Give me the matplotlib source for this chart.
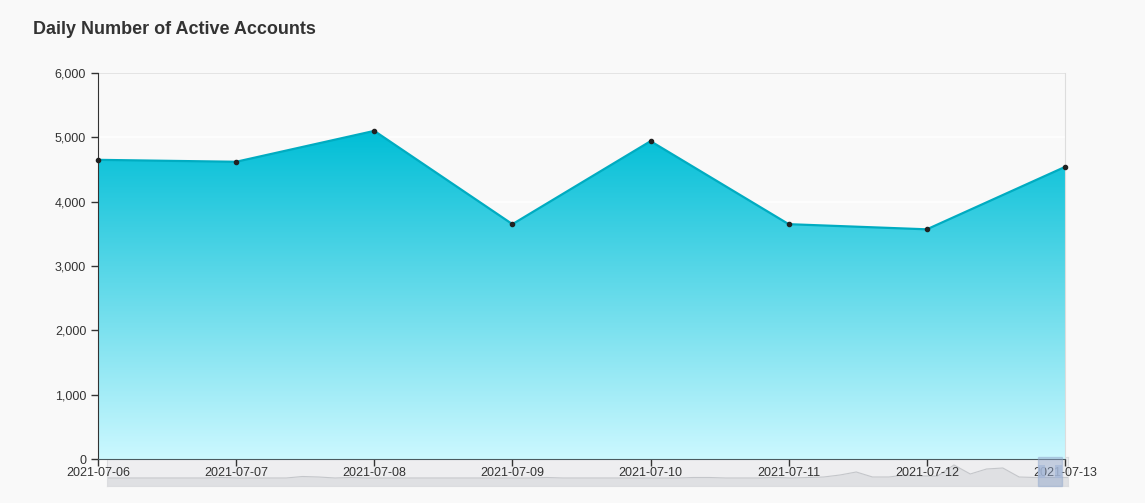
import numpy as np
import matplotlib.pyplot as plt
from matplotlib.colors import LinearSegmentedColormap
from matplotlib.patches import Rectangle

# data
dates = ['2021-07-06', '2021-07-07', '2021-07-08', '2021-07-09',
         '2021-07-10', '2021-07-11', '2021-07-12', '2021-07-13']
active_accounts = [4650, 4620, 5100, 3650, 4940, 3650, 3570, 4540]
y_ticks = [0, 1000, 2000, 3000, 4000, 5000, 6000]

# overview strip under the axis (longer history, rough reading)
brush_vals = [8, 8, 8, 8, 8, 8, 8, 8.5, 8, 8,
              8, 8, 9.5, 9, 8, 8.5, 8, 8, 8, 8,
              8, 8, 8, 8, 8, 8, 8, 8.5, 8, 8,
              8, 8, 8, 8, 8, 8, 8.5, 8.5, 8, 8,
              8, 8.5, 8, 8.5, 9, 11, 14, 9, 9, 11,
              10, 10, 21, 12, 17, 18, 9, 8.5, 8.5, 8.5]

plt.rcParams['font.family'] = ['Liberation Sans', 'DejaVu Sans']
bg = '#f9f9f9'

fig = plt.figure(figsize=(11.45, 5.03), dpi=100, facecolor=bg)
ax = fig.add_axes([98 / 1145, 44 / 503, 967 / 1145, 386 / 503])
ax.set_facecolor(bg)
ax.set_zorder(1)

x = np.arange(len(dates))
y = np.array(active_accounts)

# gradient area
fill = ax.fill_between(x, y, 0, color='none', lw=0)
cmap = LinearSegmentedColormap.from_list('cy', ['#ccf8ff', '#00bed6'])
grad = np.linspace(0, 1, 256).reshape(-1, 1)
im = ax.imshow(grad, cmap=cmap, aspect='auto', origin='lower',
               extent=[x[0], x[-1], 0, y.max()], zorder=2)
im.set_clip_path(fill.get_paths()[0], transform=ax.transData)

ax.plot(x, y, color='#00acc1', lw=1.6, zorder=3)
ax.plot(x, y, 'o', color='#222222', ms=3, zorder=4, clip_on=False)

ax.set_xlim(x[0], x[-1])
ax.set_ylim(0, 6000)
ax.set_xticks(x)
ax.set_xticklabels(dates)
ax.set_yticks(y_ticks)
ax.set_yticklabels([f'{v:,}' for v in y_ticks])
ax.grid(axis='y', color='white', lw=1.2, zorder=1.5)
ax.set_axisbelow(True)
ax.axhline(6000, color='#e0e0e0', lw=1.2, zorder=1)

ax.spines['top'].set_visible(False)
ax.spines['right'].set_color('#dddddd')
ax.spines['left'].set_color('#333333')
ax.spines['bottom'].set_color('#4a5a60')
ax.tick_params(axis='both', colors='#333333', labelsize=9, length=5, width=1)
ax.tick_params(axis='x', pad=1)

fig.text(33 / 1145, 1 - 29 / 503, 'Daily Number of Active Accounts',
         fontsize=13, fontweight='bold', color='#333333', va='center')

# overview strip
bx = fig.add_axes([107 / 1145, 17 / 503, 961 / 1145, 29 / 503])
bx.set_zorder(0)
bx.set_facecolor('#eeeef0')
bi = np.arange(len(brush_vals))
bx.fill_between(bi, brush_vals, 0, color='#dfe0e3', lw=0)
bx.plot(bi, brush_vals, color='#c4c6ca', lw=0.8)
bx.set_xlim(0, len(brush_vals) - 1)
bx.set_ylim(0, 29)
bx.set_xticks([])
bx.set_yticks([])
for s in bx.spines.values():
    s.set_color('#dcdde0')

# selected window on the strip, drawn above the tick labels
win = Rectangle((1038 / 1145, 17 / 503), 24 / 1145, 29 / 503,
                transform=fig.transFigure, facecolor='#8fa6cc', alpha=0.45,
                edgecolor='#8fa6cc', lw=1, zorder=5)
fig.add_artist(win)
for hx in (1038, 1055):
    fig.add_artist(Rectangle((hx / 1145, 25 / 503), 7 / 1145, 13 / 503,
                             transform=fig.transFigure, facecolor='#a7b9d8',
                             alpha=0.8, lw=0, zorder=6))

fig.savefig('out.png', dpi=100, facecolor=bg)
